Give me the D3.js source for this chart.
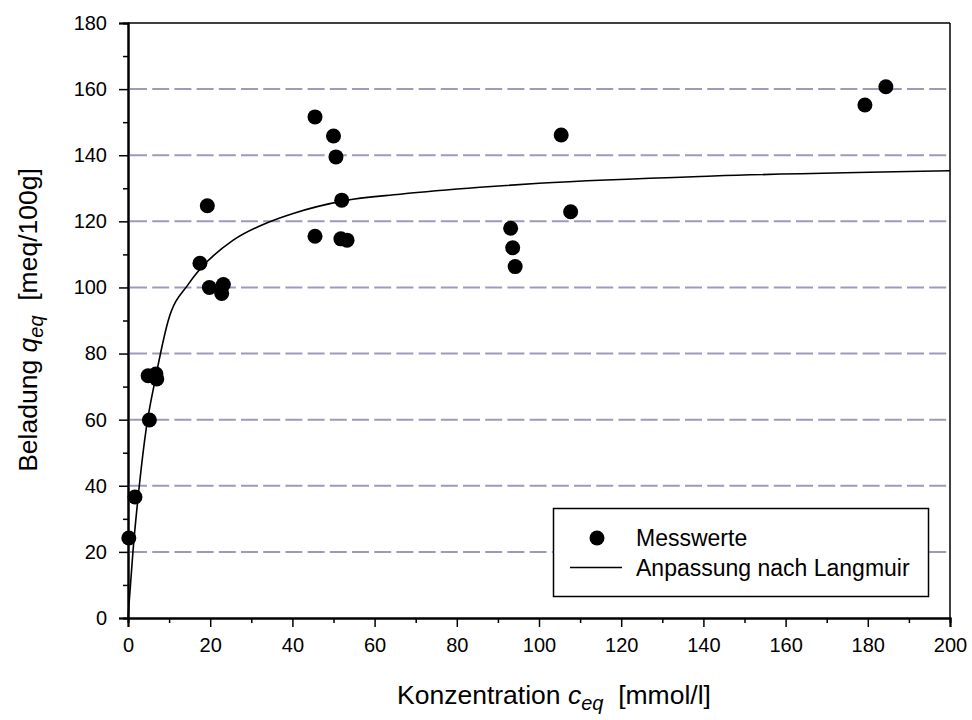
<!DOCTYPE html>
<html>
<head>
<meta charset="utf-8">
<script src="https://cdn.jsdelivr.net/npm/d3@7"></script>
<style>
  html, body { margin: 0; padding: 0; background: #fff; }
  svg { display: block; font-family: "Liberation Sans", Arial, sans-serif; }
</style>
</head>
<body>
<svg id="chart" width="972" height="720"></svg>
<script>
// ---- data ----
const measX = [0.2, 1.7, 4.9, 6.8, 7.0, 5.2, 19.3, 17.5, 19.8, 23.2, 22.8,
               45.5, 50.0, 50.6, 52.0, 45.5, 51.8, 53.3,
               105.4, 107.7, 93.1, 93.6, 94.2, 184.4, 179.3];
const measY = [24.2, 36.6, 73.3, 73.8, 72.3, 59.9, 124.7, 107.3, 100.0, 100.9, 98.2,
               151.6, 145.8, 139.5, 126.4, 115.5, 114.7, 114.3,
               146.1, 122.9, 117.9, 112.0, 106.3, 160.7, 155.2];
const fitX = [0, 1.2, 2.75, 4.4, 6.6, 9.8, 14.7, 17.5, 25.6, 34.5, 40.2, 52.4, 66.2, 85.6, 100, 142.4, 200];
const fitY = [0, 20, 40, 57, 72, 90, 101, 105.5, 114.3, 119.9, 122.4, 126.2, 128.2, 130.3, 131.5, 133.7, 135.3];
const xTicks = [0, 20, 40, 60, 80, 100, 120, 140, 160, 180, 200];
const yTicks = [0, 20, 40, 60, 80, 100, 120, 140, 160, 180];
const gridValues = [20, 40, 60, 80, 100, 120, 140, 160];
const legendLabels = ["Messwerte", "Anpassung nach Langmuir"];

// ---- layout ----
const svg = d3.select("#chart");
const L = 128, R = 950, T = 23, B = 618;
const x = d3.scaleLinear().domain([0, 200]).range([L, R]);
const y = d3.scaleLinear().domain([0, 180]).range([B, T]);

// grid lines
svg.append("g").selectAll("line").data(gridValues).join("line")
  .attr("x1", x(0) + 2).attr("x2", x(200) - 2)
  .attr("y1", d => y(d)).attr("y2", d => y(d))
  .attr("stroke", "#9d9bbb").attr("stroke-width", 2)
  .attr("stroke-dasharray", "17,5.2");

// frame (top & right)
svg.append("line").attr("x1", x(0)).attr("x2", x(200)).attr("y1", y(180)).attr("y2", y(180))
  .attr("stroke", "#000").attr("stroke-width", 1.5);
svg.append("line").attr("x1", x(200)).attr("x2", x(200)).attr("y1", y(180)).attr("y2", y(0))
  .attr("stroke", "#000").attr("stroke-width", 1.5);

// axes
const fs = 20;
const xAxisMinor = svg.append("g").attr("transform", `translate(0,${B})`)
  .call(d3.axisBottom(x).tickValues(d3.range(10, 200, 20)).tickSize(5).tickFormat(""));
const xAxis = svg.append("g").attr("transform", `translate(0,${B})`)
  .call(d3.axisBottom(x).tickValues(xTicks).tickSize(9).tickPadding(11));
const yAxisMinor = svg.append("g").attr("transform", `translate(${L},0)`)
  .call(d3.axisLeft(y).tickValues(d3.range(10, 180, 20)).tickSize(5).tickFormat(""));
const yAxis = svg.append("g").attr("transform", `translate(${L},0)`)
  .call(d3.axisLeft(y).tickValues(yTicks).tickSize(9).tickPadding(12));
[xAxis, yAxis, xAxisMinor, yAxisMinor].forEach(g => {
  g.attr("font-size", null).attr("font-family", null);
  g.select(".domain").attr("stroke", "#000").attr("stroke-width", 2);
  g.selectAll(".tick line").attr("stroke", "#000").attr("stroke-width", 1.5);
  g.selectAll(".tick text").style("font-size", fs + "px")
    .style("font-family", "'Liberation Sans', Arial, sans-serif").attr("fill", "#000");
});

// fit curve
const fitData = fitX.map((c, i) => [c, fitY[i]]);
svg.append("path").datum(fitData)
  .attr("d", d3.line().x(d => x(d[0])).y(d => y(d[1])).curve(d3.curveMonotoneX))
  .attr("fill", "none").attr("stroke", "#000").attr("stroke-width", 1.6);

// points
const measData = measX.map((c, i) => [c, measY[i]]);
svg.append("g").selectAll("circle").data(measData).join("circle")
  .attr("cx", d => x(d[0])).attr("cy", d => y(d[1])).attr("r", 7.5).attr("fill", "#000");

// axis titles
const xt = svg.append("text").attr("x", 554).attr("y", 704).attr("text-anchor", "middle")
  .style("font-size", "26.5px").attr("fill", "#000");
xt.append("tspan").text("Konzentration ");
xt.append("tspan").attr("font-style", "italic").text("c");
xt.append("tspan").attr("font-style", "italic").style("font-size", "20px").attr("dy", 6).text("eq");
xt.append("tspan").attr("dy", -6).text("\u00a0\u00a0[mmol/l]");

const yt = svg.append("text").attr("transform", "translate(37,320) rotate(-90)").attr("text-anchor", "middle")
  .style("font-size", "26.5px").attr("fill", "#000");
yt.append("tspan").text("Beladung ");
yt.append("tspan").attr("font-style", "italic").text("q");
yt.append("tspan").attr("font-style", "italic").style("font-size", "20px").attr("dy", 6).text("eq");
yt.append("tspan").attr("dy", -6).text("\u00a0\u00a0[meq/100g]");

// legend
const lg = svg.append("g");
lg.append("rect").attr("x", 553.5).attr("y", 508.5).attr("width", 375).attr("height", 88)
  .attr("fill", "#fff").attr("stroke", "#000").attr("stroke-width", 1.5);
lg.append("circle").attr("cx", 597).attr("cy", 538).attr("r", 7.5).attr("fill", "#000");
lg.append("line").attr("x1", 570).attr("x2", 622).attr("y1", 567.5).attr("y2", 567.5)
  .attr("stroke", "#000").attr("stroke-width", 1.6);
lg.selectAll("text").data(legendLabels).join("text")
  .attr("x", 636).attr("y", (d, i) => 538 + i * 29.5).attr("dy", "0.35em")
  .style("font-size", "23px").attr("fill", "#000").text(d => d);
</script>
</body>
</html>
